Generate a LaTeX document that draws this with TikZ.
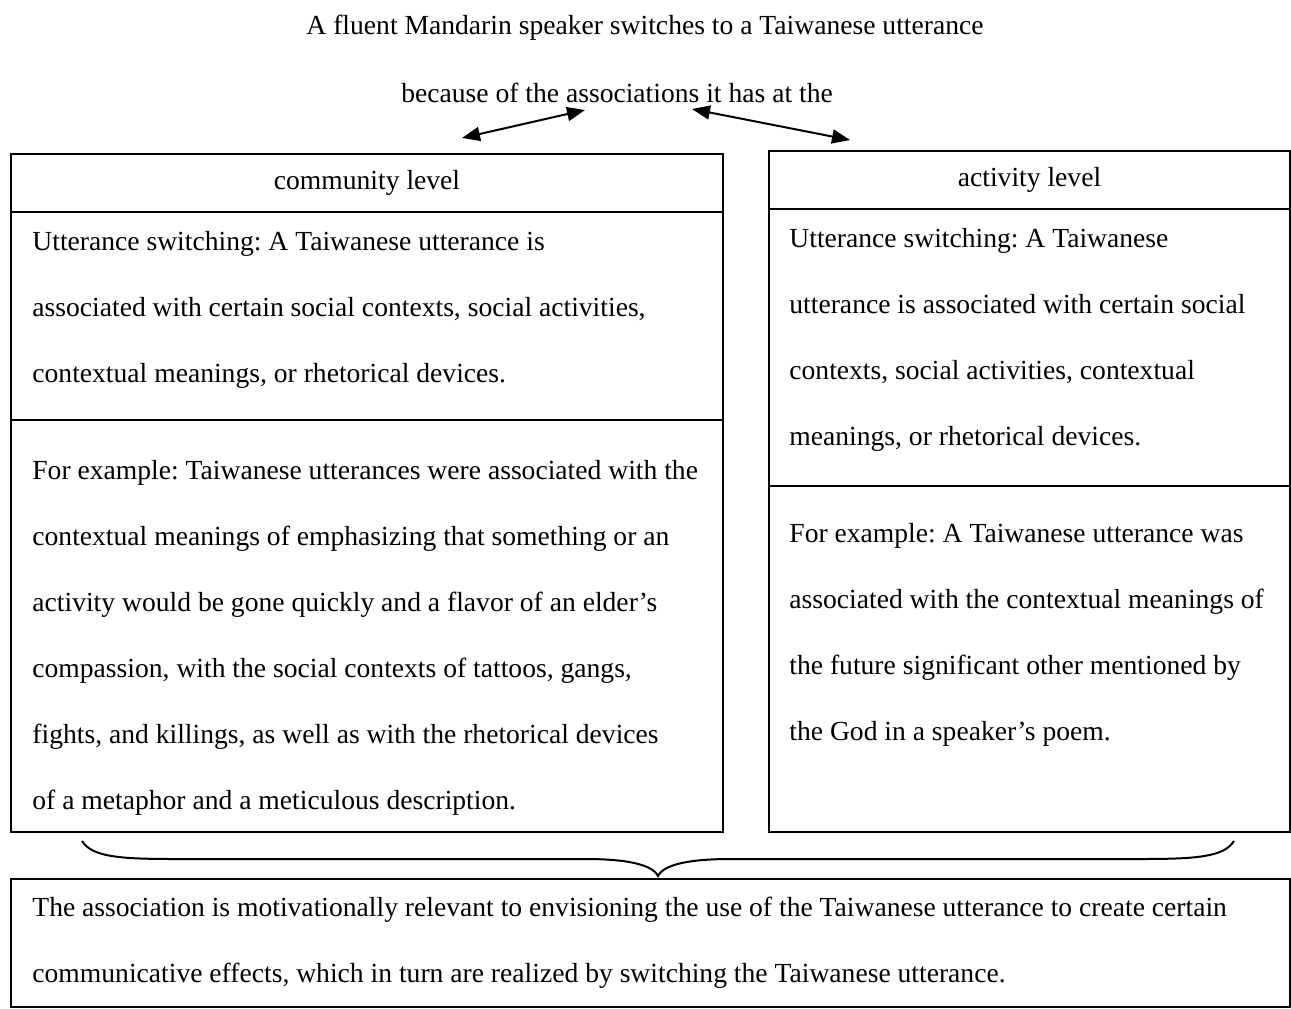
\documentclass[tikz,border=0pt]{standalone}
\usepackage{fontspec}
\setmainfont{Liberation Serif}
\usetikzlibrary{arrows.meta}
\frenchspacing
\begin{document}
\begin{tikzpicture}[x=0.5pt,y=-0.5pt,
  panel/.style={draw, line width=1pt, rectangle, inner sep=0pt, anchor=north west},
  txt/.style={inner sep=0pt, anchor=north west, align=left,
    font=\fontsize{13.8pt}{33pt}\selectfont},
  ctr/.style={inner sep=0pt, font=\fontsize{13.8pt}{16pt}\selectfont},
  dbl/.style={{Triangle[length=9pt,width=7pt]}-{Triangle[length=9pt,width=7pt]}, line width=1pt}]
\useasboundingbox (0,0) rectangle (1291,1008);

% heading lines
\node[ctr] (head1) at (645,28) {A fluent Mandarin speaker switches to a Taiwanese utterance};
\node[ctr] (head2) at (617,93) {because of the associations it has at the};

% double-headed arrows towards the two levels
\coordinate (al1) at (462,138);
\coordinate (al2) at (585,110);
\coordinate (ar1) at (692,109);
\coordinate (ar2) at (850,140);
\draw[dbl] (al1) -- (al2);
\draw[dbl] (ar1) -- (ar2);

% community level column
\node[panel, minimum width=356pt, minimum height=29pt] (lhead) at (10,153) {};
\node[panel, minimum width=356pt, minimum height=104pt] (ltop) at (10,211) {};
\node[panel, minimum width=356pt, minimum height=206pt] (lbot) at (10,419) {};
\node[ctr] (ltitle) at (lhead.center) {community level};
\node[txt] (ltext) at (32,231) {Utterance switching: A Taiwanese utterance is\\
associated with certain social contexts, social activities,\\
contextual meanings, or rhetorical devices.};
\node[txt] (lex) at (32,460) {For example: Taiwanese utterances were associated with the\\
contextual meanings of emphasizing that something or an\\
activity would be gone quickly and a flavor of an elder’s\\
compassion, with the social contexts of tattoos, gangs,\\
fights, and killings, as well as with the rhetorical devices\\
of a metaphor and a meticulous description.};

% activity level column
\node[panel, minimum width=260.5pt, minimum height=29pt] (rhead) at (768,150) {};
\node[panel, minimum width=260.5pt, minimum height=138.5pt] (rtop) at (768,208) {};
\node[panel, minimum width=260.5pt, minimum height=173pt] (rbot) at (768,485) {};
\node[ctr] (rtitle) at (rhead.center) {activity level};
\node[txt] (rtext) at (789,228) {Utterance switching: A Taiwanese\\
utterance is associated with certain social\\
contexts, social activities, contextual\\
meanings, or rhetorical devices.};
\node[txt] (rex) at (789,523) {For example: A Taiwanese utterance was\\
associated with the contextual meanings of\\
the future significant other mentioned by\\
the God in a speaker’s poem.};

% brace gathering both levels
\coordinate (bl) at (82,841);
\coordinate (btip) at (658,876);
\coordinate (br) at (1234,841);
\draw[line width=1pt] (bl) .. controls (92,857) and (120,859) .. (175,859)
  -- (585,859) .. controls (625,859) and (652,864) .. (btip)
  .. controls (664,864) and (691,859) .. (731,859)
  -- (1141,859) .. controls (1196,859) and (1224,857) .. (br);

% conclusion box
\node[panel, minimum width=639.5pt, minimum height=64pt] (concl) at (10,878) {};
\node[txt] (ctext) at (32,897) {The association is motivationally relevant to envisioning the use of the Taiwanese utterance to create certain\\
communicative effects, which in turn are realized by switching the Taiwanese utterance.};
\end{tikzpicture}
\end{document}
